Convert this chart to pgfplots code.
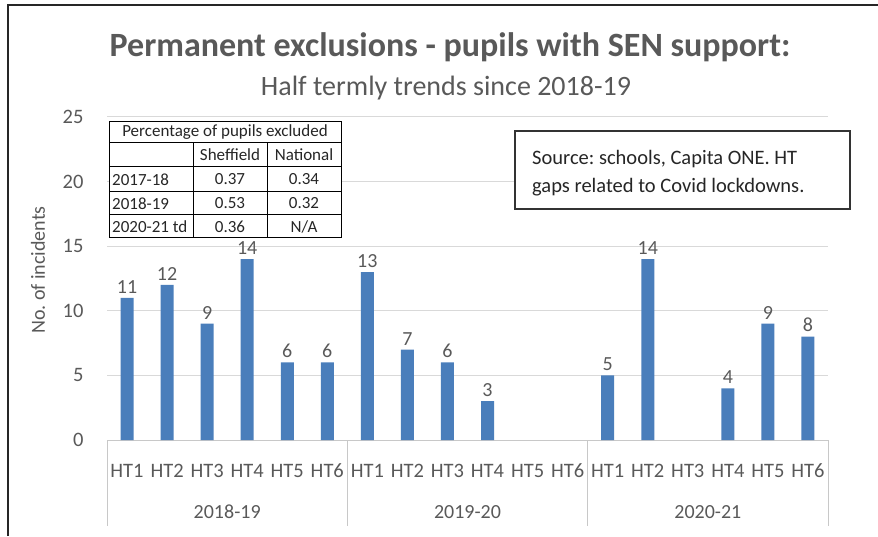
\documentclass[border=0pt]{standalone}
\usepackage{pgfplots}
\pgfplotsset{compat=1.18}
\usepackage{fontspec}
\setmainfont{Carlito}
\frenchspacing
\definecolor{txtgray}{HTML}{595959}
\definecolor{gridgray}{HTML}{D9D9D9}
\definecolor{axgray}{HTML}{C8C8C8}
\definecolor{barblue}{HTML}{4A7EBB}
\definecolor{dark}{HTML}{262626}
\newcommand{\fs}[1]{\fontsize{#1}{#1}\selectfont}
\begin{document}
\begin{tikzpicture}[x=1pt,y=1pt]
\path[use as bounding box] (0,0) rectangle (878,536);
\draw[line width=1.4pt,black!85] (8,0) -- (8,531) -- (878,531);
% titles
\node[anchor=base,text=txtgray,font=\fs{34}\bfseries] at (450,479) {Permanent exclusions - pupils with SEN support:};
\node[anchor=base,text=txtgray,font=\fs{28}] at (446,440) {Half termly trends since 2018-19};
\node[rotate=90,text=txtgray,font=\fs{20}] at (38,266) {No. of incidents};
\begin{axis}[
  at={(107pt,96pt)}, anchor=south west,
  width=721pt, height=323pt, scale only axis,
  xmin=-0.5, xmax=17.5, ymin=0, ymax=25,
  ytick={0,5,10,15,20,25},
  xtick={0,...,17},
  xticklabels={HT1,HT2,HT3,HT4,HT5,HT6,HT1,HT2,HT3,HT4,HT5,HT6,HT1,HT2,HT3,HT4,HT5,HT6},
  ymajorgrids, grid style={gridgray, line width=1pt},
  axis x line*=bottom, axis y line*=left,
  x axis line style={axgray, line width=1pt, -},
  y axis line style={draw=none},
  major tick style={draw=none},
  /pgf/number format/assume math mode=true,
  ticklabel style={text=txtgray, font=\fs{20.5}},
  xticklabel style={anchor=base, yshift=-33pt},
  yticklabel style={anchor=east, xshift=-20pt},
  ybar, bar width=13pt,
  nodes near coords,
  every node near coord/.append style={text=txtgray, font=\fs{20}, yshift=1pt},
  clip=false,
]
\addplot[fill=barblue, draw=none] coordinates {
 (0,11) (1,12) (2,9) (3,14) (4,6) (5,6)
 (6,13) (7,7) (8,6) (9,3)
 (12,5) (13,14) (15,4) (16,9) (17,8)};
\draw[axgray, line width=1pt] (axis cs:-0.5,0) -- ++(0pt,-86pt);
\draw[axgray, line width=1pt] (axis cs:5.5,0) -- ++(0pt,-86pt);
\draw[axgray, line width=1pt] (axis cs:11.5,0) -- ++(0pt,-86pt);
\draw[axgray, line width=1pt] (axis cs:17.5,0) -- ++(0pt,-86pt);
\node[anchor=base,text=txtgray,font=\fs{20}] at ([yshift=-78pt]axis cs:2.5,0) {2018-19};
\node[anchor=base,text=txtgray,font=\fs{20}] at ([yshift=-78pt]axis cs:8.5,0) {2019-20};
\node[anchor=base,text=txtgray,font=\fs{20}] at ([yshift=-78pt]axis cs:14.5,0) {2020-21};
\end{axis}
% percentage table
\fill[white] (109,298) rectangle (341,414);
\draw[line width=1pt,black] (109,298) rectangle (341,414);
\draw[line width=1pt,black] (109,393) -- (341,393);
\draw[line width=1pt,black] (109,369) -- (341,369);
\draw[line width=1pt,black] (109,344) -- (341,344);
\draw[line width=1pt,black] (109,321) -- (341,321);
\draw[line width=1pt,black] (193,393) -- (193,298);
\draw[line width=1pt,black] (267,393) -- (267,298);
\begin{scope}[every node/.style={text=dark,font=\fs{17},inner sep=0pt}]
\node at (225,403.5) {Percentage of pupils excluded};
\node at (230,381) {Sheffield};
\node at (304,381) {National};
\node[anchor=west] at (112,356.5) {2017-18};
\node at (230,356.5) {0.37};
\node at (304,356.5) {0.34};
\node[anchor=west] at (112,332.5) {2018-19};
\node at (230,332.5) {0.53};
\node at (304,332.5) {0.32};
\node[anchor=west] at (112,309.5) {2020-21 td};
\node at (230,309.5) {0.36};
\node at (304,309.5) {N/A};
\end{scope}
% source box
\fill[white] (515,327) rectangle (850,405);
\draw[line width=1.2pt,black!80] (515,327) rectangle (850,405);
\node[anchor=base west,text=black!85,font=\fs{20.5},inner sep=0pt] at (532,371) {Source: schools, Capita ONE. HT};
\node[anchor=base west,text=black!85,font=\fs{20.5},inner sep=0pt] at (532,343) {gaps related to Covid lockdowns.};
\end{tikzpicture}
\end{document}
